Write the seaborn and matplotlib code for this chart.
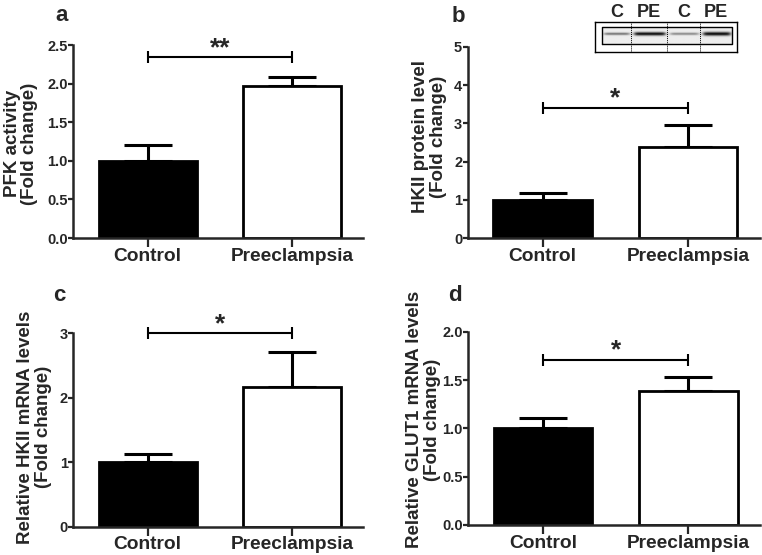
import numpy as np
import pandas as pd
import seaborn as sns
import matplotlib.pyplot as plt
from matplotlib.ticker import FormatStrFormatter

# data (mean, upper SEM, significance bracket height)
groups = ["Control", "Preeclampsia"]

pfk_mean = [1.0, 1.97]
pfk_err = [0.20, 0.12]

hk2_protein_mean = [1.01, 2.37]
hk2_protein_err = [0.18, 0.59]

hk2_mrna_mean = [1.01, 2.17]
hk2_mrna_err = [0.11, 0.54]

glut1_mean = [1.0, 1.39]
glut1_err = [0.11, 0.14]

sig_heights = [2.34, 3.41, 3.0, 1.71]
sig_labels = ["**", "*", "*", "*"]

# western blot inset: lane labels and band intensity / thickness
blot_lanes = ["C", "PE", "C", "PE"]
blot_intensity = [0.55, 1.0, 0.45, 1.0]
blot_thickness = [0.8, 1.15, 0.8, 1.25]

sns.set_style("ticks")
plt.rcParams["font.family"] = ["Liberation Sans", "DejaVu Sans"]
plt.rcParams["font.weight"] = "bold"

fig = plt.figure(figsize=(7.62, 5.55), dpi=100)
W, H = 762, 555


def px_axes(left, top, right, bottom):
    return fig.add_axes([left / W, 1 - bottom / H, (right - left) / W, (bottom - top) / H])


panels = [
    dict(box=(73.3, 45, 363.3, 238), mean=pfk_mean, err=pfk_err, ymax=2.5, step=0.5,
         fmt="%.1f", ylabel="PFK activity\n(Fold change)", lab_x=-0.12, lab_y=0.49,
         letter="a", letter_xy=(55, 20.7)),
    dict(box=(467.7, 46.7, 760, 238.3), mean=hk2_protein_mean, err=hk2_protein_err, ymax=5,
         step=1, fmt="%d", ylabel="HKII protein level\n(Fold change)", lab_x=-0.072,
         lab_y=0.53, letter="b", letter_xy=(451.5, 21.7)),
    dict(box=(73.3, 333.3, 363.3, 526.7), mean=hk2_mrna_mean, err=hk2_mrna_err, ymax=3,
         step=1, fmt="%d", ylabel="Relative HKII mRNA levels\n(Fold change)", lab_x=-0.075,
         lab_y=0.515, letter="c", letter_xy=(53, 300.7)),
    dict(box=(468.3, 331.7, 760, 525), mean=glut1_mean, err=glut1_err, ymax=2.0, step=0.5,
         fmt="%.1f", ylabel="Relative GLUT1 mRNA levels\n(Fold change)", lab_x=-0.095,
         lab_y=0.545, letter="d", letter_xy=(448, 300.7)),
]

for i, p in enumerate(panels):
    ax = px_axes(*p["box"])
    df = pd.DataFrame({"group": groups, "value": p["mean"]})
    sns.barplot(data=df, x="group", y="value", hue="group", palette=["black", "white"],
                legend=False, width=0.68, edgecolor="black", linewidth=2.0,
                errorbar=None, ax=ax, zorder=2)
    ax.errorbar(range(len(groups)), p["mean"], yerr=[[0, 0], p["err"]], fmt="none",
                ecolor="black", elinewidth=2.2, capsize=17.5, capthick=2.2, zorder=1)

    # significance bracket
    h = sig_heights[i]
    ax.plot([0, 1], [h, h], color="black", lw=1.5, clip_on=False, zorder=3)
    ax.plot([0, 1], [h, h], ls="none", marker="|", ms=9, mew=1.5, color="black",
            clip_on=False, zorder=3)
    ax.annotate(sig_labels[i], xy=(0.5, h), xytext=(0, 1.5), textcoords="offset points",
                ha="center", va="baseline", fontsize=19, fontweight="bold",
                annotation_clip=False)

    ax.set_xlim(-0.515, 1.495)
    ax.set_ylim(0, p["ymax"])
    ax.set_yticks(np.arange(0, p["ymax"] + 1e-9, p["step"]))
    ax.yaxis.set_major_formatter(FormatStrFormatter(p["fmt"]))
    ax.set_xlabel("")
    ax.set_ylabel(p["ylabel"], fontsize=13.5, fontweight="bold", linespacing=1.05)
    ax.yaxis.set_label_coords(p["lab_x"], p["lab_y"])
    sns.despine(ax=ax)
    for s in ["left", "bottom"]:
        ax.spines[s].set_linewidth(1.8)
    ax.tick_params(axis="y", labelsize=10.5, width=1.6, length=3.5, pad=0.5)
    ax.tick_params(axis="x", labelsize=13.8, width=1.6, length=6.5, pad=0.5)
    for t in ax.get_xticklabels() + ax.get_yticklabels():
        t.set_fontweight("bold")

    fig.text(p["letter_xy"][0] / W, 1 - p["letter_xy"][1] / H, p["letter"],
             fontsize=16, fontweight="bold", va="baseline", ha="left")

# western blot inset
bax = px_axes(595, 21.7, 736.7, 51.7)
bax.set_xlim(0, 1)
bax.set_ylim(0, 1)
bax.set_xticks([])
bax.set_yticks([])
for s in bax.spines.values():
    s.set_linewidth(1.0)
    s.set_color("black")

x_in0, x_in1, y_in0, y_in1 = 0.047, 0.965, 0.247, 0.813
edges = [x_in0, 0.254, 0.51, 0.741, x_in1]
nx, ny = 400, 60
xs = np.linspace(x_in0, x_in1, nx)
ys = np.linspace(0, 1, ny)
img = np.full((ny, nx), 0.93)
for k in range(len(blot_lanes)):
    l0, l1 = edges[k], edges[k + 1]
    c = (l0 + l1) / 2
    half = (l1 - l0) * 0.42
    xprof = 1 / (1 + np.exp((np.abs(xs - c) - half) / 0.008))
    yprof = np.exp(-((ys - 0.6) / (0.09 * blot_thickness[k])) ** 2)
    img -= 0.9 * blot_intensity[k] * np.outer(yprof, xprof)
img = np.clip(img, 0, 1)
bax.imshow(img, cmap="gray", vmin=0, vmax=1, extent=[x_in0, x_in1, y_in0, y_in1],
           origin="lower", aspect="auto", interpolation="bilinear")
bax.plot([x_in0, x_in1, x_in1, x_in0, x_in0], [y_in0, y_in0, y_in1, y_in1, y_in0],
         color="black", lw=1.0)
for xe in edges[1:-1]:
    bax.plot([xe, xe], [0, 1], color="black", lw=0.7, ls=(0, (1, 1)))
for k, lab in enumerate(blot_lanes):
    c = (edges[k] + edges[k + 1]) / 2
    bax.text(c, 1.17, lab, ha="center", va="baseline", fontsize=13,
             fontweight="bold", transform=bax.transData, clip_on=False)

fig.savefig("out.png", dpi=100)
